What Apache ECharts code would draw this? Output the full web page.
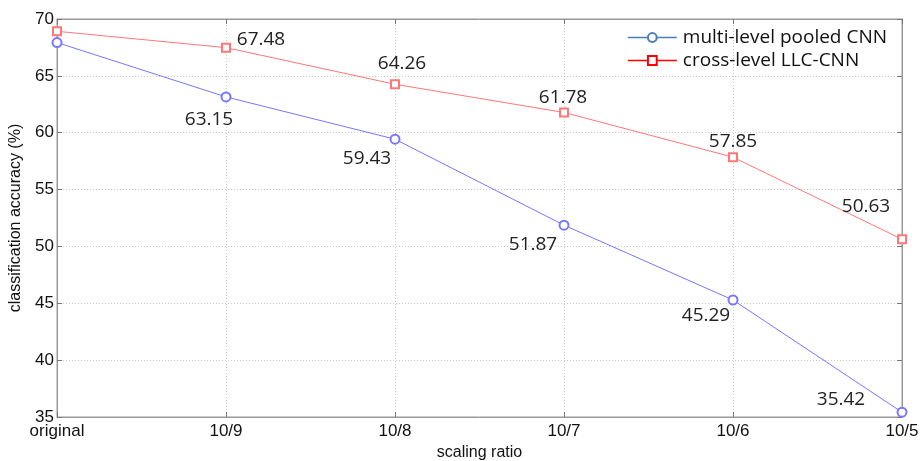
<!DOCTYPE html>
<html>
<head>
<meta charset="utf-8">
<script src="https://cdn.jsdelivr.net/npm/echarts@6/dist/echarts.min.js"></script>
<style>html,body{margin:0;padding:0;background:#fff;}#c{width:923px;height:461px;}</style>
</head>
<body>
<div id="c"></div>
<script>
var categories = ['original', '10/9', '10/8', '10/7', '10/6', '10/5'];
var pooledCNN = [67.93, 63.15, 59.43, 51.87, 45.29, 35.42];
var llcCNN = [68.92, 67.48, 64.26, 61.78, 57.85, 50.63];
var yTicks = [35, 40, 45, 50, 55, 60, 65, 70];

// label offsets (style only)
var pooledOffsets = [null, [-17, 23], [-28, 19], [-31, 19], [-27, 16], [-61, -13]];
var llcOffsets = [null, [35, -8], [7, -21], [-1, -15], [0, -16], [-36, -33]];

function buildData(vals, offs) {
  return vals.map(function (v, i) {
    var o = offs[i];
    if (!o) return { value: v, label: { show: false } };
    return { value: v, label: { show: true, offset: o } };
  });
}

var labelStyle = {
  show: true,
  position: 'inside',
  align: 'center',
  verticalAlign: 'middle',
  fontFamily: 'Open Sans',
  fontSize: 19,
  color: '#222',
  formatter: function (p) { return p.value.toFixed(2); }
};

var narrow = 'Liberation Sans Narrow, Liberation Sans, Arial';
var gridLine = { show: true, lineStyle: { color: '#c8c8c8', type: [1, 2] } };
var tick = { show: true, inside: true, length: 5, lineStyle: { color: '#777' } };

var chart = echarts.init(document.getElementById('c'));
chart.setOption({
  animation: false,
  backgroundColor: '#fff',
  grid: { left: 57, right: 21, top: 19, bottom: 44, show: true, borderColor: '#999', borderWidth: 1,
          outerBoundsMode: 'none', containLabel: false },
  legend: {
    right: 31, top: 23, orient: 'vertical', itemGap: 4, itemWidth: 49, itemHeight: 11,
    textStyle: { fontFamily: 'Open Sans', fontSize: 19, lineHeight: 19, color: '#111', padding: [0, 0, 0, 1] },
    data: [
      { name: 'multi-level pooled CNN', itemStyle: { color: '#4a7ebb', borderColor: '#4a7ebb', borderWidth: 1.5 }, lineStyle: { color: '#4a7ebb', width: 1.5 } },
      { name: 'cross-level LLC-CNN', itemStyle: { color: '#ff0000', borderColor: '#ff0000', borderWidth: 1.5 }, lineStyle: { color: '#ff0000', width: 1.5 } }
    ]
  },
  xAxis: [{
    type: 'category', data: categories, boundaryGap: false,
    name: 'scaling ratio', nameLocation: 'middle', nameGap: 26,
    nameTextStyle: { fontFamily: narrow, fontSize: 16, color: '#111' },
    axisLine: { lineStyle: { color: '#999' } },
    axisTick: tick,
    axisLabel: { fontFamily: narrow, fontSize: 17, color: '#111', margin: 6 },
    splitLine: gridLine
  }, {
    type: 'category', data: categories, boundaryGap: false, position: 'top',
    axisLine: { lineStyle: { color: '#999' } },
    axisTick: tick, axisLabel: { show: false }, splitLine: { show: false }
  }],
  yAxis: [{
    type: 'value', min: 35, max: 70, interval: 5,
    name: 'classification accuracy (%)', nameLocation: 'middle', nameGap: 33,
    nameTextStyle: { fontFamily: narrow, fontSize: 16, color: '#111' },
    axisLine: { show: true, lineStyle: { color: '#999' } },
    axisTick: tick,
    axisLabel: { fontFamily: narrow, fontSize: 17, color: '#111', margin: 3,
      formatter: function (v) { return yTicks.indexOf(v) >= 0 ? String(v) : ''; } },
    splitLine: gridLine
  }, {
    type: 'value', min: 35, max: 70, interval: 5, position: 'right',
    axisLine: { show: true, lineStyle: { color: '#999' } },
    axisTick: tick, axisLabel: { show: false }, splitLine: { show: false }
  }],
  series: [
    {
      name: 'multi-level pooled CNN', type: 'line',
      data: buildData(pooledCNN, pooledOffsets),
      symbol: 'emptyCircle', symbolSize: 9,
      lineStyle: { color: '#7777ff', width: 1 },
      itemStyle: { color: '#7777ff', borderColor: '#7777ff', borderWidth: 1 },
      label: labelStyle
    },
    {
      name: 'cross-level LLC-CNN', type: 'line',
      data: buildData(llcCNN, llcOffsets),
      symbol: 'emptyRect', symbolSize: 8,
      lineStyle: { color: '#ff7777', width: 1 },
      itemStyle: { color: '#ff7777', borderColor: '#ff7777', borderWidth: 1 },
      label: labelStyle
    }
  ]
});
</script>
</body>
</html>
